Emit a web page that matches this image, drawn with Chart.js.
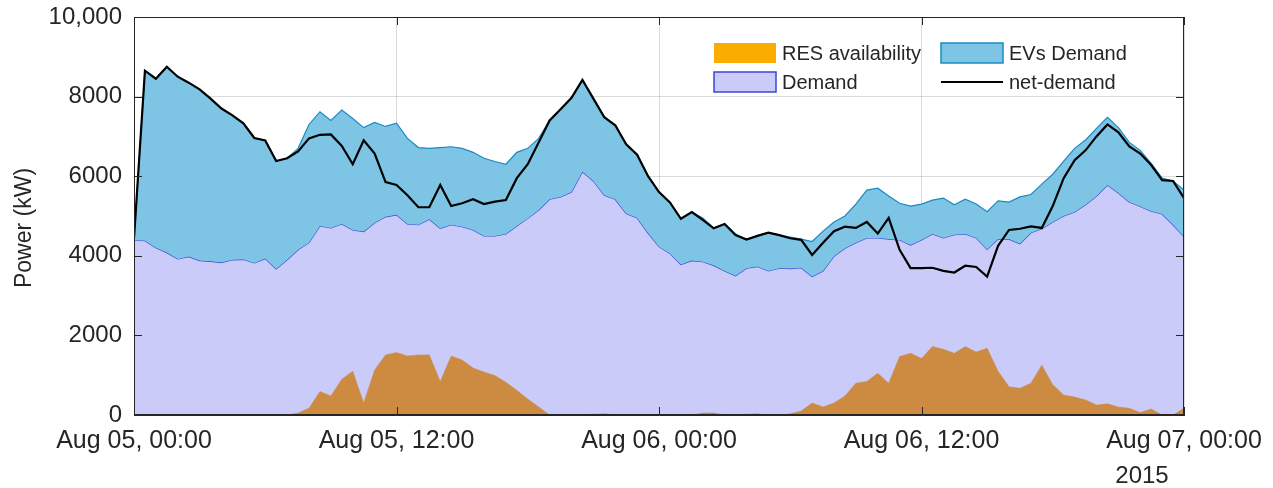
<!DOCTYPE html>
<html>
<head>
<meta charset="utf-8">
<title>Power</title>
<script src="https://cdn.jsdelivr.net/npm/chart.js@4.4.1/dist/chart.umd.min.js"></script>
<style>
  body { margin: 0; background: #fff; }
  #wrap { width: 1273px; height: 488px; position: relative; }
</style>
</head>
<body>
<div id="wrap"><canvas id="powerChart"></canvas></div>
<script>
// half-hour samples, Aug 05 00:00 -> Aug 07 00:00 (hours from start)
const hours = Array.from({ length: 97 }, (_, i) => i / 2);

// demand + EV demand (top of the blue band)
const totalDemand = [
  4440, 8650, 8450, 8750, 8500, 8350, 8180, 7950, 7700, 7530,
  7330, 6960, 6900, 6380, 6450, 6700, 7300, 7620, 7400, 7660,
  7450, 7220, 7350, 7250, 7330, 6950, 6720, 6700, 6720, 6740,
  6700, 6600, 6450, 6370, 6300, 6600, 6700, 6950, 7400, 7680,
  7970, 8420, 7950, 7500, 7280, 6800, 6540, 6000, 5600, 5340,
  4930, 5100, 4950, 4700, 4800, 4550, 4410, 4510, 4580, 4520,
  4470, 4420, 4360, 4620, 4850, 5000, 5300, 5650, 5700, 5500,
  5320, 5250, 5300, 5400, 5450, 5280, 5420, 5300, 5110, 5380,
  5350, 5480, 5540, 5800, 6050, 6380, 6700, 6910, 7200, 7480,
  7220, 6850, 6650, 6320, 5950, 5880, 5650
];

const demand = [
  4400, 4380, 4200, 4080, 3920, 3980, 3880, 3860, 3830, 3900,
  3910, 3820, 3930, 3670, 3900, 4150, 4330, 4750, 4700, 4800,
  4650, 4610, 4830, 4980, 5030, 4800, 4780, 4920, 4690, 4780,
  4730, 4650, 4500, 4500, 4550, 4750, 4940, 5150, 5420, 5480,
  5600, 6110, 5880, 5520, 5420, 5060, 4950, 4570, 4230, 4060,
  3780, 3880, 3850, 3760, 3620, 3500, 3690, 3730, 3620, 3690,
  3680, 3700, 3480, 3620, 3990, 4190, 4330, 4450, 4450, 4420,
  4400, 4270, 4400, 4550, 4450, 4530, 4550, 4450, 4160, 4420,
  4420, 4300, 4580, 4680, 4850, 5000, 5100, 5280, 5500, 5780,
  5580, 5350, 5240, 5120, 5050, 4780, 4480
];

const resAvailability = [
  0, 0, 0, 0, 0, 0, 0, 0, 0, 0,
  0, 0, 0, 0, 0, 50, 170, 590, 480, 900,
  1100, 300, 1130, 1510, 1570, 1480, 1510, 1510, 840, 1480,
  1380, 1180, 1080, 990, 820, 620, 400, 200, 0, 0,
  0, 0, 20, 30, 0, 0, 0, 0, 0, 0,
  0, 0, 50, 50, 0, 0, 20, 30, 0, 0,
  30, 100, 300, 200, 300, 480, 800, 840, 1050, 800,
  1470, 1550, 1420, 1720, 1650, 1550, 1720, 1580, 1680, 1100,
  710, 670, 800, 1250, 760, 500, 450, 380, 250, 280,
  200, 170, 60, 150, 0, 0, 170
];

const netDemand = [
  4440, 8650, 8450, 8750, 8500, 8350, 8180, 7950, 7700, 7530,
  7330, 6960, 6900, 6380, 6450, 6620, 6950, 7040, 7050, 6760,
  6300, 6900, 6570, 5850, 5780, 5520, 5220, 5220, 5780, 5250,
  5320, 5420, 5300, 5360, 5400, 5950, 6300, 6850, 7400, 7680,
  7970, 8420, 7950, 7480, 7280, 6800, 6540, 6000, 5600, 5340,
  4930, 5100, 4900, 4690, 4800, 4520, 4410, 4500, 4580, 4520,
  4440, 4400, 4020, 4330, 4620, 4730, 4700, 4850, 4560, 4950,
  4150, 3690, 3690, 3700, 3620, 3580, 3750, 3720, 3480, 4250,
  4650, 4680, 4740, 4700, 5250, 5950, 6400, 6650, 7000, 7300,
  7100, 6750, 6570, 6280, 5900, 5880, 5450
];

const xTickValues = [0, 12, 24, 36, 48];
const xTickLabels = ['Aug 05, 00:00', 'Aug 05, 12:00', 'Aug 06, 00:00', 'Aug 06, 12:00', 'Aug 07, 00:00'];
const yTickValues = [0, 2000, 4000, 6000, 8000, 10000];
const yTickLabels = ['0', '2000', '4000', '6000', '8000', '10,000'];
const legendLabels = ['RES availability', 'EVs Demand', 'Demand', 'net-demand'];
const yTitle = 'Power (kW)';

const FONT = "'Liberation Sans', Arial, sans-serif";
const INK = '#262626';

const COL = {
  demandFill: 'rgb(203,203,249)',
  demandLine: 'rgb(55,70,215)',
  evFill: 'rgb(126,196,228)',
  evLine: 'rgb(25,140,195)',
  resFill: 'rgb(205,139,66)',
  resLegend: 'rgb(250,172,0)',
  net: '#000'
};

// box, inner tick marks, axis title, the "2015" year label and the two-column legend
const framePlugin = {
  id: 'frame',
  afterDraw(chart) {
    const { ctx, chartArea: a, scales } = chart;
    ctx.save();
    ctx.strokeStyle = INK;
    ctx.lineWidth = 1;
    ctx.strokeRect(a.left + 0.5, a.top + 0.5, a.width - 1, a.height - 1);

    ctx.beginPath();
    yTickValues.forEach(v => {
      const y = Math.round(scales.y.getPixelForValue(v)) + 0.5;
      ctx.moveTo(a.left, y); ctx.lineTo(a.left + 8, y);
      ctx.moveTo(a.right, y); ctx.lineTo(a.right - 8, y);
    });
    xTickValues.forEach(v => {
      const x = Math.round(scales.x.getPixelForValue(v)) + 0.5;
      ctx.moveTo(x, a.bottom); ctx.lineTo(x, a.bottom - 8);
      ctx.moveTo(x, a.top); ctx.lineTo(x, a.top + 8);
    });
    ctx.stroke();

    ctx.fillStyle = INK;
    ctx.textAlign = 'center';
    ctx.textBaseline = 'middle';

    // y axis title, sits a little below the middle like the original
    ctx.save();
    ctx.translate(25, a.top + a.height / 2 + 12);
    ctx.rotate(-Math.PI / 2);
    ctx.font = '23px ' + FONT;
    ctx.fillText(yTitle, 0, 0);
    ctx.restore();

    ctx.font = '24px ' + FONT;
    ctx.fillText('2015', scales.x.getPixelForValue(48) - 42, a.bottom + 61);

    // legend
    const col1 = a.left + 580, col2 = a.left + 807;
    const row1 = a.top + 26, row2 = a.top + 55;
    const sw = 62, sh = 20;
    ctx.font = '20px ' + FONT;
    ctx.textAlign = 'left';

    ctx.fillStyle = COL.resLegend;
    ctx.fillRect(col1, row1, sw, sh);

    ctx.fillStyle = COL.evFill;
    ctx.fillRect(col2, row1, sw, sh);
    ctx.strokeStyle = COL.evLine;
    ctx.lineWidth = 1.5;
    ctx.strokeRect(col2, row1, sw, sh);

    ctx.fillStyle = COL.demandFill;
    ctx.fillRect(col1, row2, sw, sh);
    ctx.strokeStyle = COL.demandLine;
    ctx.strokeRect(col1, row2, sw, sh);

    ctx.strokeStyle = COL.net;
    ctx.lineWidth = 2;
    ctx.beginPath();
    ctx.moveTo(col2, row2 + sh / 2);
    ctx.lineTo(col2 + sw, row2 + sh / 2);
    ctx.stroke();

    ctx.fillStyle = INK;
    ctx.fillText(legendLabels[0], col1 + sw + 6, row1 + sh / 2 + 1);
    ctx.fillText(legendLabels[1], col2 + sw + 6, row1 + sh / 2 + 1);
    ctx.fillText(legendLabels[2], col1 + sw + 6, row2 + sh / 2 + 1);
    ctx.fillText(legendLabels[3], col2 + sw + 6, row2 + sh / 2 + 1);
    ctx.restore();
  }
};

const data = {
  labels: hours,
  datasets: [
    {
      label: legendLabels[2],
      data: demand,
      fill: 'origin',
      backgroundColor: COL.demandFill,
      borderColor: COL.demandLine,
      borderWidth: 1.2,
      order: 4
    },
    {
      label: legendLabels[1],
      data: totalDemand,
      fill: 0,
      backgroundColor: COL.evFill,
      borderColor: COL.evLine,
      borderWidth: 1.2,
      order: 3
    },
    {
      label: legendLabels[0],
      data: resAvailability,
      fill: 'origin',
      backgroundColor: COL.resFill,
      borderColor: COL.resFill,
      borderWidth: 0.5,
      order: 2
    },
    {
      label: legendLabels[3],
      data: netDemand,
      fill: false,
      borderColor: COL.net,
      borderWidth: 2.2,
      order: 1
    }
  ]
};

const config = {
  type: 'line',
  data: data,
  options: {
    responsive: true,
    maintainAspectRatio: false,
    animation: false,
    layout: { padding: { top: 17, right: 89, bottom: 0, left: 0 } },
    elements: { point: { radius: 0 }, line: { tension: 0 } },
    plugins: {
      legend: { display: false },
      tooltip: { enabled: false }
    },
    scales: {
      x: {
        type: 'linear',
        min: 0,
        max: 48,
        z: 1,
        afterBuildTicks: s => { s.ticks = xTickValues.map(v => ({ value: v })); },
        afterFit: s => { s.height = 73; s.paddingLeft = 0; s.paddingRight = 0; },
        ticks: {
          autoSkip: false,
          maxRotation: 0,
          padding: 11,
          color: INK,
          font: { family: FONT, size: 25 },
          callback: v => {
            const i = xTickValues.indexOf(v);
            return i >= 0 ? xTickLabels[i] : '';
          }
        },
        grid: { color: 'rgba(0,0,0,0.14)', drawTicks: false },
        border: { display: true, color: INK }
      },
      y: {
        min: 0,
        max: 10000,
        z: 1,
        afterBuildTicks: s => { s.ticks = yTickValues.map(v => ({ value: v })); },
        afterFit: s => { s.width = 134; s.paddingTop = 0; s.paddingBottom = 0; },
        ticks: {
          padding: 12,
          color: INK,
          font: { family: FONT, size: 24 },
          callback: v => {
            const i = yTickValues.indexOf(v);
            return i >= 0 ? yTickLabels[i] : '';
          }
        },
        grid: { color: 'rgba(0,0,0,0.14)', drawTicks: false },
        border: { display: true, color: INK }
      }
    }
  },
  plugins: [framePlugin]
};

const powerChart = new Chart(document.getElementById('powerChart'), config);
</script>
</body>
</html>
